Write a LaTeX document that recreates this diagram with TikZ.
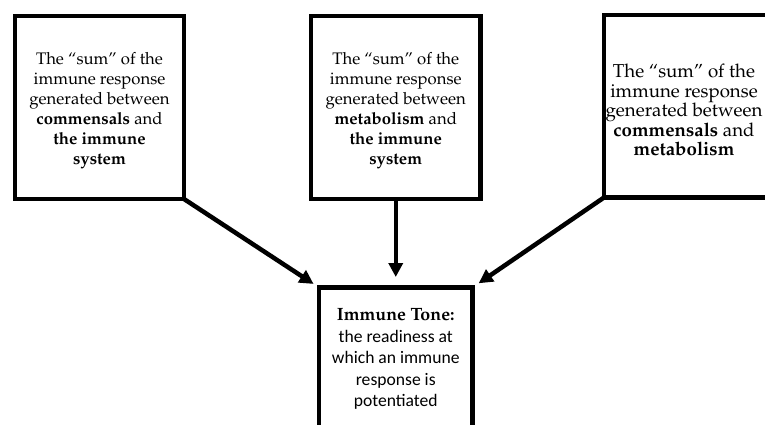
\documentclass[tikz,border=0pt]{standalone}
\usepackage[T1]{fontenc}
\usepackage{fontspec}
\setsansfont{Carlito}
\usetikzlibrary{arrows.meta}
\newfontfamily\libserif[Scale=1.02]{Liberation Serif}
\IfFileExists{t1qpl.fd}{%
  \newcommand\palfont{\fontencoding{T1}\fontfamily{qpl}\selectfont}}{%
  \IfFileExists{t1ppl.fd}{%
    \newcommand\palfont{\fontencoding{T1}\fontfamily{ppl}\selectfont}}{%
    \newcommand\palfont{\libserif}}}
\newcommand\pb[1]{{\palfont\fontseries{b}\selectfont #1}}
\begin{document}
\begin{tikzpicture}[x=1pt,y=-1pt,
  box/.style={draw, line width=4.5pt, rectangle, inner sep=0pt, outer sep=0pt},
  txt/.style={align=center, inner sep=0pt, font=\palfont\fontsize{16.7}{20}\selectfont},
  rtxtstyle/.style={align=center, inner sep=0pt, font=\palfont\fontsize{18.7}{19.5}\selectfont},
  btxtstyle/.style={align=center, inner sep=0pt, font=\sffamily\fontsize{17.6}{21.5}\selectfont},
  arr/.style={line width=4.5pt, -{Triangle[length=14pt,width=14pt]}}]
\useasboundingbox (0,0) rectangle (765,425);
\clip (0,0) rectangle (765,425);
\fill[white] (0,0) rectangle (765,425);
% boxes
\node[box, minimum width=169pt, minimum height=183pt] (lbox) at (99.5,107.5) {};
\node[box, minimum width=169.5pt, minimum height=183pt] (mbox) at (395.75,107.5) {};
\node[box, minimum width=196pt, minimum height=182.5pt] (rbox) at (702,106.25) {};
\node[box, minimum width=153.5pt, minimum height=172.5pt] (bbox) at (395.75,373.75) {};
% texts
\node[txt] (ltxt) at (99.5,111) {The \textquotedblleft sum\textquotedblright{} of the\\immune response\\generated between\\\pb{commensals} and\\\pb{the immune}\\\pb{system}};
\node[txt] (mtxt) at (395.75,111) {The \textquotedblleft sum\textquotedblright{} of the\\immune response\\generated between\\\pb{metabolism} and\\\pb{the immune}\\\pb{system}};
\node[rtxtstyle] (rtxt) at (684,110) {The \textquotedblleft sum\textquotedblright{} of the\\immune response\\generated between\\\pb{commensals} and\\\pb{metabolism}};
\node[btxtstyle] (btxt) at (395.75,359) {{\palfont\fontseries{b}\fontsize{17.8}{21.5}\selectfont Immune Tone:}\\the readiness at\\which an immune\\response is\\potentiated};
% arrows
\draw[arr, shorten >=6.5pt] (lbox.south east) -- (bbox.north west);
\draw[arr, shorten >=10.5pt] (mbox.south) -- (bbox.north);
\draw[arr, shorten >=7.5pt] (rbox.south west) -- (bbox.north east);
\end{tikzpicture}
\end{document}
